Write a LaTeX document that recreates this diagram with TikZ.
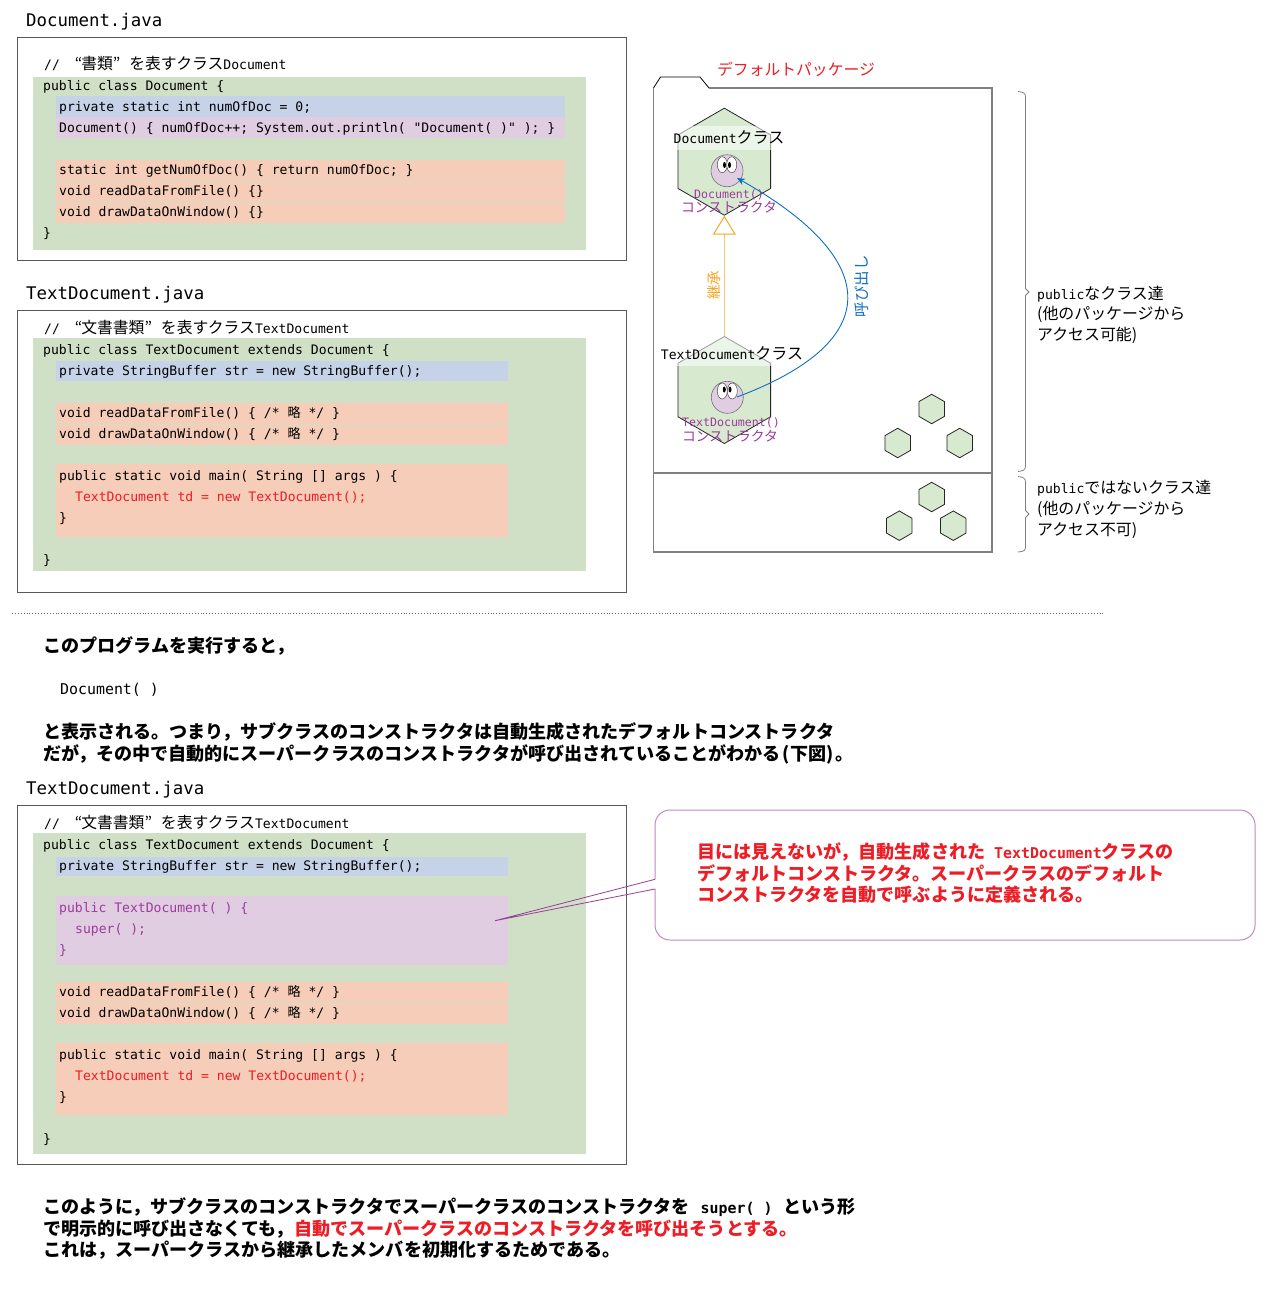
\documentclass[tikz,border=0pt]{standalone}
\usepackage{fontspec}
\usetikzlibrary{shapes.geometric,arrows.meta}
\setmonofont{DejaVu Sans Mono}
\newfontfamily\jp{Noto Sans CJK JP}
\newfontfamily\jpk{Noto Sans CJK JP Black}
\newcommand{\J}[1]{{\jp #1}}
\newcommand{\JC}[1]{{\jp\fontsize{15.8}{18}\selectfont #1}}
\newcommand{\LB}[1]{{\ttfamily\bfseries\fontsize{14.9}{18}\selectfont #1}}
\definecolor{cgreen}{HTML}{D0E0C6}
\definecolor{cblue}{HTML}{C5D2E8}
\definecolor{cpurple}{HTML}{E0CDE2}
\definecolor{corange}{HTML}{F5CDB8}
\definecolor{hexgreen}{HTML}{D7E9CF}
\definecolor{tpurple}{HTML}{9B3C9B}
\definecolor{tblue}{HTML}{0F6FC0}
\definecolor{tred}{HTML}{EE1C25}
\definecolor{torange}{HTML}{F5A623}
\tikzset{
 x=1pt,y=-1pt,
 code/.style={anchor=base west,inner sep=0pt,font=\ttfamily\fontsize{13.08}{15}\selectfont,text=black},
 ftitle/.style={anchor=base west,inner sep=0pt,font=\ttfamily\fontsize{17.4}{20}\selectfont},
 boldtext/.style={anchor=base west,inner sep=0pt,font=\jpk\fontsize{18.07}{20}\selectfont},
 sidetext/.style={anchor=base west,inner sep=0pt,font=\jp\fontsize{15.9}{18}\selectfont},
 frame/.style={draw=black!65,line width=1pt,fill=white},
 gapline/.style={draw=cgreen,line width=1pt},
 bighex/.style={regular polygon,regular polygon sides=6,regular polygon rotate=30,minimum size=107pt,inner sep=0pt,draw=black!85,line width=.8pt,fill=hexgreen},
 smallhex/.style={regular polygon,regular polygon sides=6,regular polygon rotate=30,minimum size=29.5pt,inner sep=0pt,draw=black!85,line width=.8pt,fill=hexgreen},
 face/.style={circle,minimum size=32pt,inner sep=0pt,draw=black!55,line width=.6pt,fill=cpurple},
 eye/.style={draw=black!70,line width=.5pt,fill=white},
 pkg/.style={draw=black!50,line width=1.3pt},
 sidebrace/.style={draw=black!50,line width=.8pt},
 ctor/.style={inner sep=0pt,text=tpurple},
}
\begin{document}
\begin{tikzpicture}
\useasboundingbox[fill=white] (0,0) rectangle (1279,1296);

% ---------- Document.java
\node[ftitle] (t1) at (26,26.5) {Document.java};
\draw[frame] (17,37) rectangle (626,260);
\fill[cgreen] (33,77) rectangle (586,250);
\fill[cblue] (56,96) rectangle (565,117);
\fill[cpurple] (56,117) rectangle (565,138);
\fill[corange] (56,160) rectangle (565,223);
\draw[gapline] (56,181) -- (565,181) (56,202) -- (565,202);
\node[code] (a0) at (44,69) {//\hspace{7pt} \JC{“\hspace{-1pt}書類”\hspace{9pt}を表すクラス}Document};
\node[code] (a1) at (43,90.5) {public class Document \{};
\node[code] (a2) at (59,111) {private static int numOfDoc = 0;};
\node[code] (a3) at (59,132) {Document() \{ numOfDoc++; System.out.println( "Document( )" ); \}};
\node[code] (a4) at (59,174.5) {static int getNumOfDoc() \{ return numOfDoc; \}};
\node[code] (a5) at (59,195.5) {void readDataFromFile() \{\}};
\node[code] (a6) at (59,216.5) {void drawDataOnWindow() \{\}};
\node[code] (a7) at (43,237.5) {\}};

% ---------- TextDocument.java (1)
\node[ftitle] (t2) at (26,299.5) {TextDocument.java};
\draw[frame] (17,310) rectangle (626,592);
\fill[cgreen] (33,338) rectangle (586,571);
\fill[cblue] (56,361) rectangle (508,381);
\fill[corange] (56,403) rectangle (508,445);
\draw[gapline] (56,424) -- (508,424);
\fill[corange] (56,464) rectangle (508,537);
\node[code] (b0) at (44,333) {//\hspace{7pt} \JC{“\hspace{-1pt}文書書類”\hspace{9pt}を表すクラス}TextDocument};
\node[code] (b1) at (43,354) {public class TextDocument extends Document \{};
\node[code] (b2) at (59,375) {private StringBuffer str = new StringBuffer();};
\node[code] (b3) at (59,417) {void readDataFromFile() \{ /* \J{略} */ \}};
\node[code] (b4) at (59,438) {void drawDataOnWindow() \{ /* \J{略} */ \}};
\node[code] (b5) at (59,480) {public static void main( String [] args ) \{};
\node[code,text=tred] (b6) at (75,501) {TextDocument td = new TextDocument();};
\node[code] (b7) at (59,522) {\}};
\node[code] (b8) at (43,564) {\}};

% ---------- package diagram
\node[inner sep=0pt,text=tred,font=\jp\fontsize{15.8}{18}\selectfont] (pkgname) at (796,69) {デフォルトパッケージ};
\draw[draw=black,line width=.8pt] (653.5,88) -- (660.5,77) -- (700,77) -- (709,88);
\draw[pkg] (709,88) -- (992,88) -- (992,552) -- (653.5,552) -- (653.5,88);
\draw[pkg] (653.5,473) -- (992,473);

\node[bighex] (hexA) at (724.3,161.7) {};
\node[bighex] (hexB) at (724.3,390) {};
\draw[line width=1.4pt,draw=torange!65,-{Triangle[open,color=torange,length=19pt,width=23pt,line width=1pt]}] (hexB.north) -- (hexA.south);
\fill[white,opacity=.55] (677,126) rectangle (772,150);
\fill[white,opacity=.55] (677,336) rectangle (772,366);
\node[inner sep=0pt,font=\ttfamily\fontsize{13.08}{15}\selectfont] (la) at (729,137.5) {Document\J{\fontsize{16}{18}\selectfont クラス}};
\node[inner sep=0pt,font=\ttfamily\fontsize{13.08}{15}\selectfont] (lb) at (732,353.5) {TextDocument\J{\fontsize{16}{18}\selectfont クラス}};

\node[face] (faceA) at (727,170.7) {};
\draw[eye] (722.3,164.7) ellipse [x radius=5,y radius=8];
\draw[eye] (731.7,164.7) ellipse [x radius=5,y radius=8];
\fill[black] (724.5,165) ellipse [x radius=1.5,y radius=3];
\fill[black] (729.5,165) ellipse [x radius=1.5,y radius=3];
\node[face] (faceB) at (727.3,397.3) {};
\draw[eye] (722.3,391) ellipse [x radius=5,y radius=8];
\draw[eye] (732.3,391) ellipse [x radius=5,y radius=8];
\fill[black] (724.3,389.5) ellipse [x radius=1.5,y radius=3];
\fill[black] (730,389.5) ellipse [x radius=1.5,y radius=3];

\node[ctor,font=\ttfamily\fontsize{11.6}{13}\selectfont] (ca1) at (729,195) {Document()};
\node[ctor,font=\jp\fontsize{13.8}{15}\selectfont] (ca2) at (729,207) {コンストラクタ};
\node[ctor,font=\ttfamily\fontsize{11.6}{13}\selectfont] (cb1) at (731,423) {TextDocument()};
\node[ctor,font=\jp\fontsize{13.8}{15}\selectfont] (cb2) at (730,436) {コンストラクタ};

\coordinate (callfrom) at (737,397);
\coordinate (callto) at (737,178);
\draw[tblue,line width=.9pt,-{Stealth[length=8pt,width=7pt]}] (callfrom) .. controls (884,342) and (884,261) .. (callto);
\node[rotate=90,inner sep=0pt,text=tblue,font=\jp\fontsize{15.5}{18}\selectfont] (calllabel) at (862,286) {呼び出し};
\node[rotate=90,inner sep=0pt,text=torange,font=\jp\fontsize{14.5}{16}\selectfont] (inh) at (714,285) {継承};

\node[smallhex] (h1) at (931.7,409) {};
\node[smallhex] (h2) at (897.7,443) {};
\node[smallhex] (h3) at (959.7,443) {};
\node[smallhex] (h4) at (931.7,497) {};
\node[smallhex] (h5) at (899.3,525.7) {};
\node[smallhex] (h6) at (953.3,525.7) {};

\draw[sidebrace] (1018,91.5) .. controls (1023,92) and (1025.5,93) .. (1025.5,97) -- (1025.5,288.5) -- (1029,292) -- (1025.5,295.5) -- (1025.5,466) .. controls (1025.5,470) and (1023,471) .. (1018,471.5);
\draw[sidebrace] (1018,476.5) .. controls (1023,477) and (1025.5,478) .. (1025.5,482) -- (1025.5,510.5) -- (1029,514) -- (1025.5,517.5) -- (1025.5,547) .. controls (1025.5,551) and (1023,551.5) .. (1018,552);
\node[sidetext] (s1) at (1037,299) {{\ttfamily\fontsize{13.08}{15}\selectfont public}なクラス達};
\node[sidetext] (s2) at (1037,319.5) {(他のパッケージから};
\node[sidetext] (s3) at (1037,340.5) {アクセス可能)};
\node[sidetext] (s4) at (1037,493) {{\ttfamily\fontsize{13.08}{15}\selectfont public}ではないクラス達};
\node[sidetext] (s5) at (1037,514) {(他のパッケージから};
\node[sidetext] (s6) at (1037,535) {アクセス不可)};

% ---------- separator
\coordinate (sepa) at (12,613);
\coordinate (sepb) at (1103,613);
\draw[black!60,line width=.9pt,dotted] (sepa) -- (sepb);

% ---------- middle text
\node[boldtext] (m1) at (43,652.2) {このプログラムを実行すると，};
\node[anchor=base west,inner sep=0pt,font=\ttfamily\fontsize{14.9}{16}\selectfont] (m2) at (60,694) {Document( )};
\node[boldtext] (m3) at (43,738.2) {と表示される。つまり，サブクラスのコンストラクタは自動生成されたデフォルトコンストラクタ};
\node[boldtext] (m4) at (43,760.2) {だが，その中で自動的にスーパークラスのコンストラクタが呼び出されていることがわかる\hspace{2pt}(下図)\hspace{2pt}。};

% ---------- TextDocument.java (2)
\node[ftitle] (t3) at (26,794.5) {TextDocument.java};
\draw[frame] (17,805) rectangle (626,1164);
\fill[cgreen] (33,833) rectangle (586,1154);
\fill[cblue] (56,857) rectangle (508,876);
\fill[cpurple] (56,896) rectangle (508,965);
\fill[corange] (56,982) rectangle (508,1024);
\draw[gapline] (56,1003) -- (508,1003);
\fill[corange] (56,1043) rectangle (508,1115);
\node[code] (c0) at (44,828) {//\hspace{7pt} \JC{“\hspace{-1pt}文書書類”\hspace{9pt}を表すクラス}TextDocument};
\node[code] (c1) at (43,849) {public class TextDocument extends Document \{};
\node[code] (c2) at (59,870) {private StringBuffer str = new StringBuffer();};
\node[code,text=tpurple] (c3) at (59,912) {public TextDocument( ) \{};
\node[code,text=tpurple] (c4) at (75,933) {super( );};
\node[code,text=tpurple] (c5) at (59,954) {\}};
\node[code] (c6) at (59,996) {void readDataFromFile() \{ /* \J{略} */ \}};
\node[code] (c7) at (59,1017) {void drawDataOnWindow() \{ /* \J{略} */ \}};
\node[code] (c8) at (59,1059) {public static void main( String [] args ) \{};
\node[code,text=tred] (c9) at (75,1080) {TextDocument td = new TextDocument();};
\node[code] (c10) at (59,1101) {\}};
\node[code] (c11) at (43,1143) {\}};

% ---------- callout
\coordinate (calla) at (655,879.3);
\coordinate (callb) at (655,889);
\coordinate (calltip) at (495,920.7);
\draw[tpurple!60,line width=1pt,rounded corners=15pt] (callb) -- (655,940) -- (1255,940) -- (1255,810) -- (655,810) -- (calla);
\draw[tpurple,line width=.8pt] (calla) -- (calltip) -- (callb);
\node[boldtext,text=tred] (k1) at (697,858.2) {目には見えないが，自動生成された\hspace{9pt}\LB{TextDocument}クラスの};
\node[boldtext,text=tred] (k2) at (697,880.2) {デフォルトコンストラクタ。スーパークラスのデフォルト};
\node[boldtext,text=tred] (k3) at (697,901.2) {コンストラクタを自動で呼ぶように定義される。};

% ---------- bottom text
\node[boldtext] (e1) at (43,1213.2) {このように，サブクラスのコンストラクタでスーパークラスのコンストラクタを\hspace{11pt}\LB{super( )}\hspace{11pt}という形};
\node[boldtext] (e2) at (43,1235.2) {で明示的に呼び出さなくても，\textcolor{tred}{自動でスーパークラスのコンストラクタを呼び出そうとする。}};
\node[boldtext] (e3) at (43,1256.2) {これは，スーパークラスから継承したメンバを初期化するためである。};
\end{tikzpicture}
\end{document}
